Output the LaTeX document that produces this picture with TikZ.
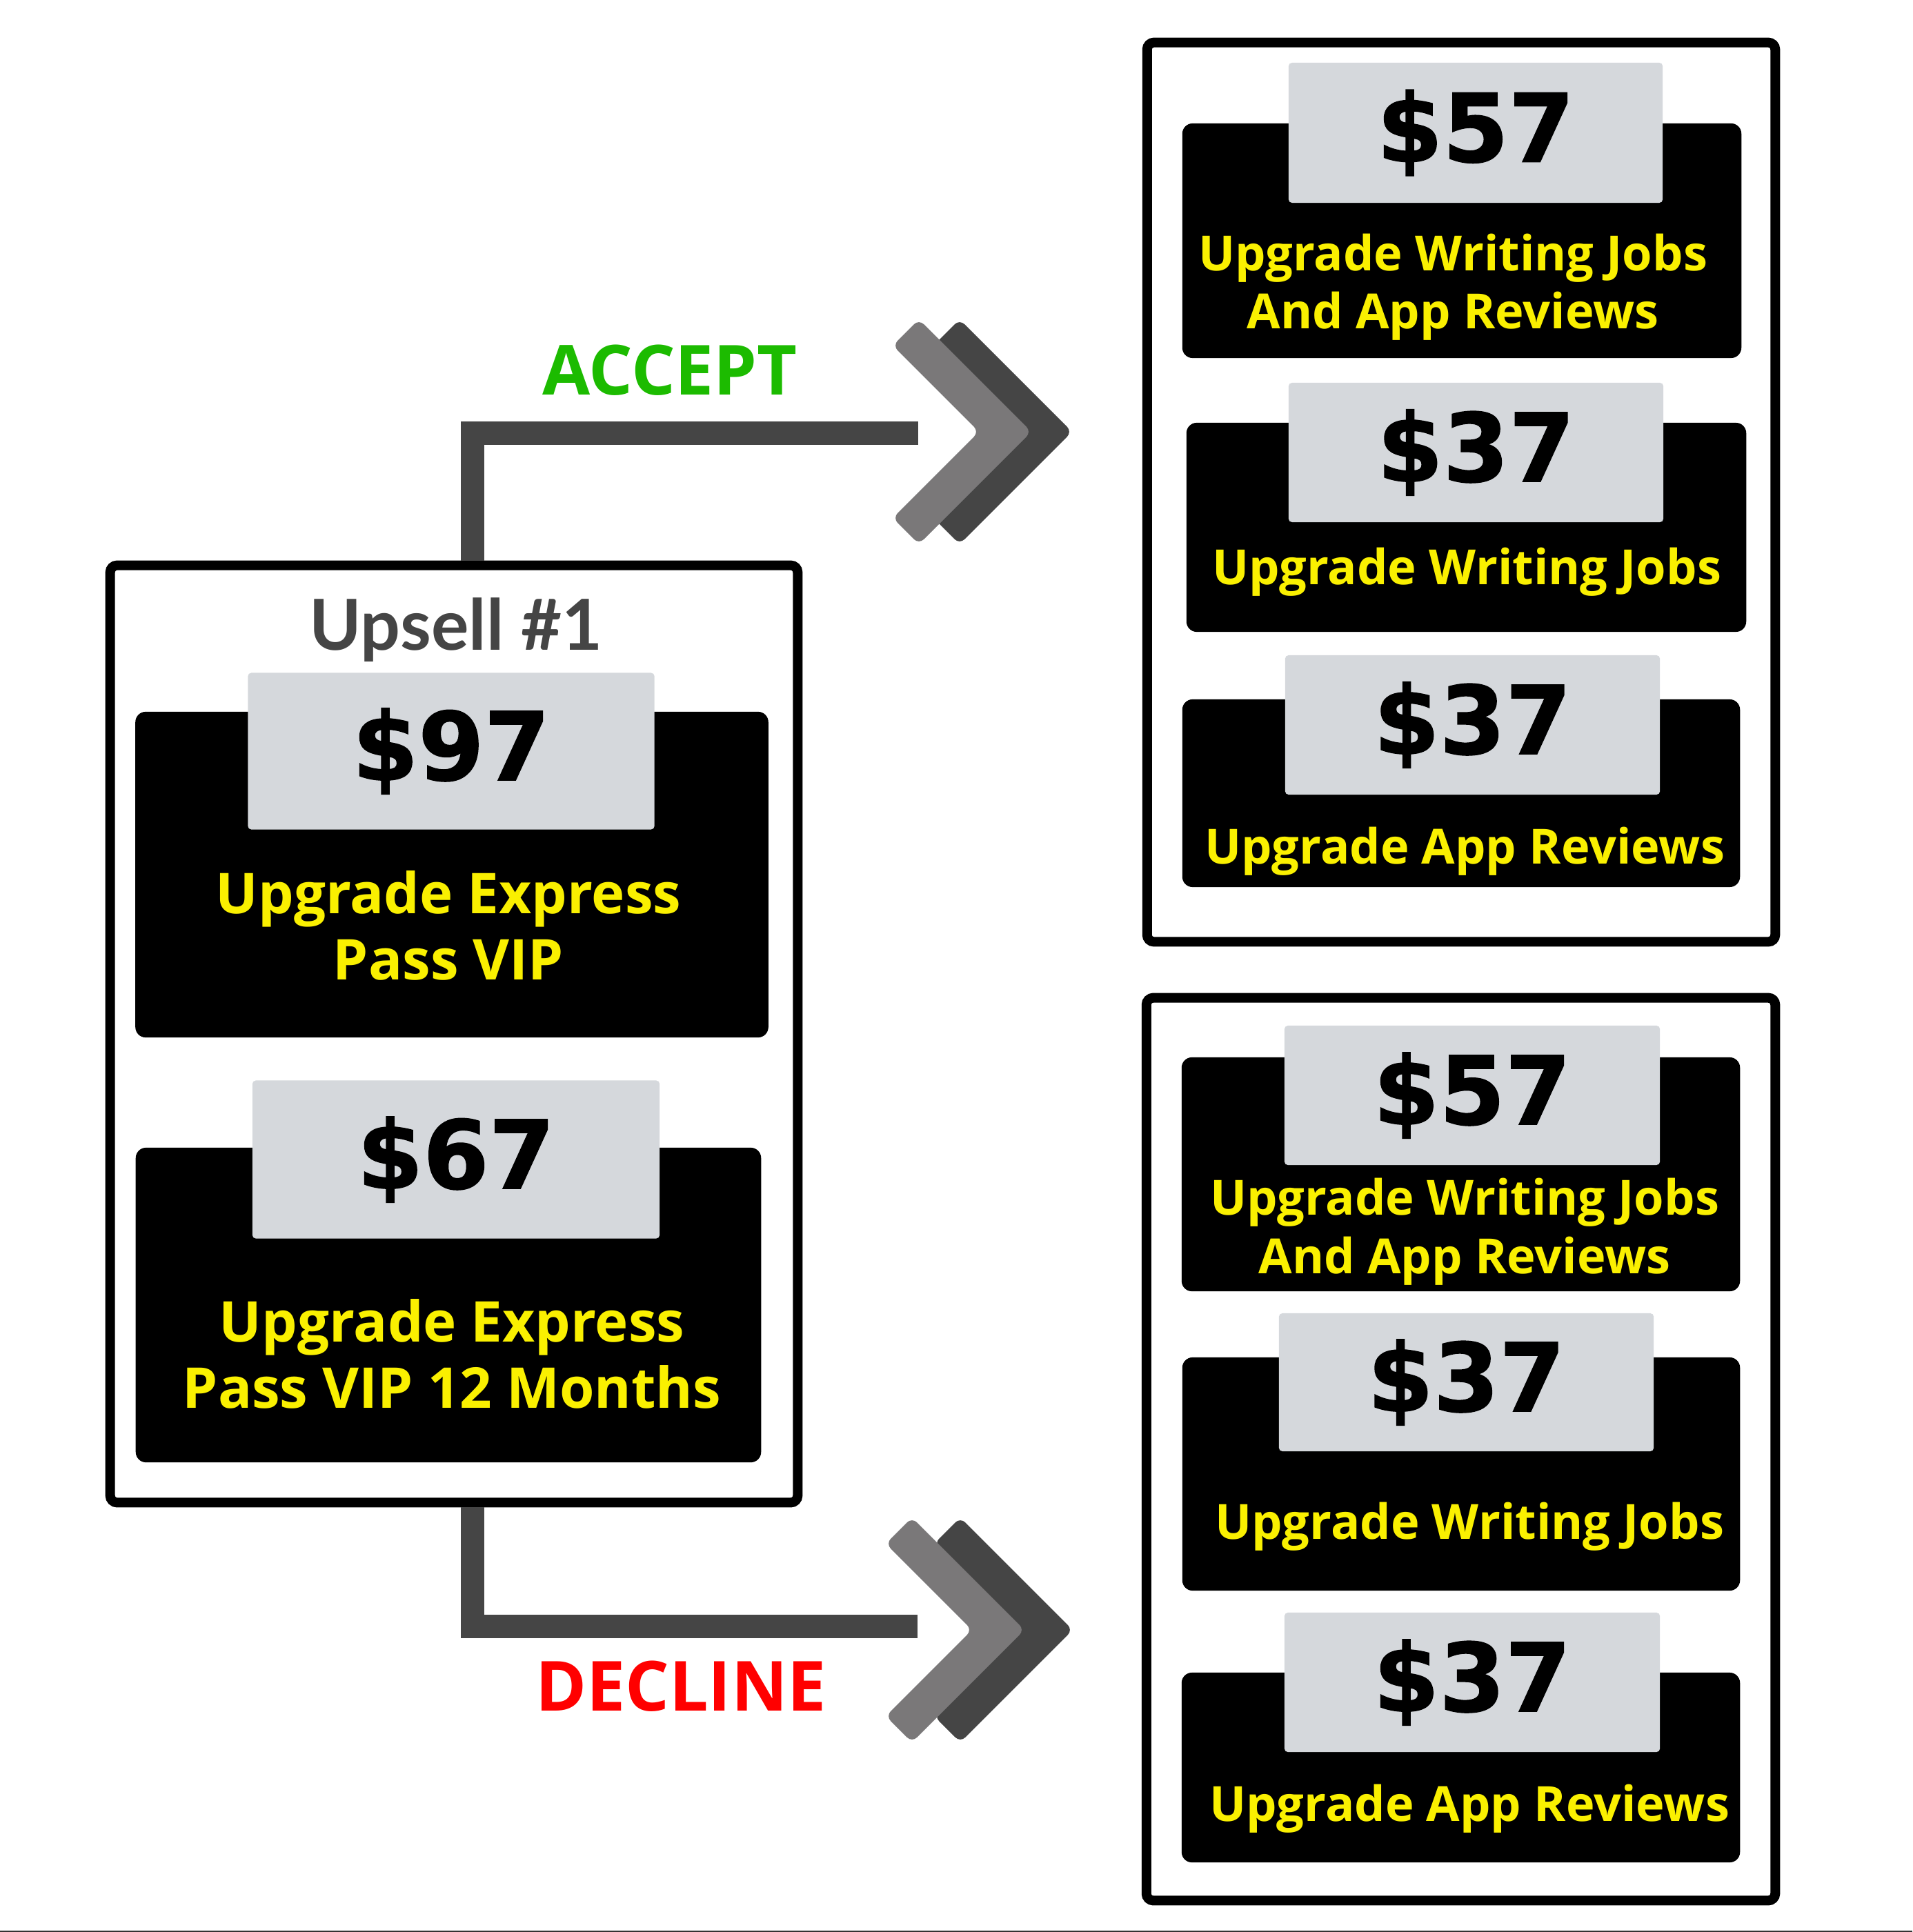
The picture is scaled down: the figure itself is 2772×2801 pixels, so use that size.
\documentclass[tikz,border=0pt]{standalone}
\usepackage{fontspec}
\newfontfamily\dealfont{Open Sans}
\newfontfamily\pricefont{DejaVu Sans}[BoldFeatures={FakeBold=1.2}]
\newfontfamily\titlefont{Lato}
\definecolor{dealyellow}{RGB}{250,240,0}
\definecolor{pricegray}{RGB}{213,216,220}
\definecolor{linkgray}{RGB}{69,69,69}
\definecolor{chevlight}{RGB}{122,120,121}
\definecolor{acceptgreen}{RGB}{28,187,0}
\begin{document}
\begin{tikzpicture}[x=0.01cm, y=-0.01cm,
    panel/.style={draw, line width=0.14cm, rounded corners=0.1cm, inner sep=0pt},
    offer/.style={fill=black, rounded corners=0.15cm, inner sep=0pt},
    price/.style={fill=pricegray, rounded corners=0.05cm, inner sep=0pt,
      font=\pricefont\bfseries\fontsize{39}{40}\selectfont},
    deal/.style={text=dealyellow, align=center, anchor=base,
      font=\dealfont\bfseries\fontsize{20}{23.9}\selectfont},
    bigdeal/.style={deal, font=\dealfont\bfseries\fontsize{23.2}{27.3}\selectfont},
    link/.style={draw=linkgray, line width=0.34cm},
    verdict/.style={anchor=base, font=\dealfont\bfseries\fontsize{28.5}{30}\selectfont}]

  \useasboundingbox (0,0) rectangle (2772,2801);

  % left upsell panel
  \node[panel, minimum width=9.96cm, minimum height=13.58cm] (upsell) at (658,1499) {};
  \node[anchor=base, text=linkgray, font=\titlefont\bfseries\fontsize{29}{30}\selectfont] (title) at (661,942) {Upsell \#1};

  \node[offer, minimum width=9.17cm, minimum height=4.72cm] (vip) at (655,1268) {};
  \node[price, minimum width=5.89cm, minimum height=2.27cm] (vipprice) at (654,1089) {\$97};
  \node[bigdeal] (viptext) at (650,1420) {Upgrade Express\\Pass VIP};

  \node[offer, minimum width=9.06cm, minimum height=4.56cm] (vipyear) at (650,1892) {};
  \node[price, minimum width=5.9cm, minimum height=2.29cm] (vipyearprice) at (661,1681) {\$67};
  \node[bigdeal] (vipyeartext) at (655,2041) {Upgrade Express\\Pass VIP 12 Months};

  % accept panel
  \node[panel, minimum width=9.10cm, minimum height=13.03cm] (acceptpanel) at (2118,713.5) {};
  \node[offer, minimum width=8.10cm, minimum height=3.40cm] (jobsapps) at (2119,349) {};
  \node[price, minimum width=5.42cm, minimum height=2.03cm] (jobsappsprice) at (2139,192.5) {\$57};
  \node[deal] (jobsappstext) at (2106,477) {Upgrade Writing Jobs\\And App Reviews};
  \node[offer, minimum width=8.11cm, minimum height=3.03cm] (jobs) at (2125.5,764.5) {};
  \node[price, minimum width=5.43cm, minimum height=2.02cm] (jobsprice) at (2139.5,656) {\$37};
  \node[deal] (jobstext) at (2126,847) {Upgrade Writing Jobs};
  \node[offer, minimum width=8.08cm, minimum height=2.72cm] (apps) at (2118,1150) {};
  \node[price, minimum width=5.43cm, minimum height=2.02cm] (appsprice) at (2134.5,1051) {\$37};
  \node[deal] (appstext) at (2123,1252) {Upgrade App Reviews};

  % decline panel
  \node[panel, minimum width=9.11cm, minimum height=13.08cm] (declinepanel) at (2117.5,2101) {};
  \node[offer, minimum width=8.09cm, minimum height=3.39cm] (downjobsapps) at (2117.5,1702.5) {};
  \node[price, minimum width=5.44cm, minimum height=2.02cm] (downjobsappsprice) at (2134,1588) {\$57};
  \node[deal] (downjobsappstext) at (2123,1846) {Upgrade Writing Jobs\\And App Reviews};
  \node[offer, minimum width=8.08cm, minimum height=3.38cm] (downjobs) at (2118,2137) {};
  \node[price, minimum width=5.43cm, minimum height=2.00cm] (downjobsprice) at (2125.5,2004) {\$37};
  \node[deal] (downjobstext) at (2130,2231) {Upgrade Writing Jobs};
  \node[offer, minimum width=8.09cm, minimum height=2.75cm] (downapps) at (2117.5,2562.5) {};
  \node[price, minimum width=5.44cm, minimum height=2.02cm] (downappsprice) at (2134,2439) {\$37};
  \node[deal] (downappstext) at (2130,2640) {Upgrade App Reviews};

  % connectors
  \coordinate (acceptbend) at (685,628);
  \coordinate (acceptend) at (1331,628);
  \coordinate (declinebend) at (685,2358);
  \coordinate (declineend) at (1330,2358);
  \draw[link] (upsell.north -| acceptbend) -- (acceptbend) -- (acceptend);
  \draw[link] (upsell.south -| declinebend) -- (declinebend) -- (declineend);
  \node[verdict, text=acceptgreen] (accept) at (971,573) {ACCEPT};
  \node[verdict, text=red] (decline) at (987,2480) {DECLINE};

  % chevrons
  \foreach \tx/\ty/\tone in {1391/463/linkgray, 1332/463/chevlight, 1392/2200/linkgray, 1322/2200/chevlight}
    \fill[\tone, rounded corners=0.1cm] (\tx,\ty) -- ++(163,163) -- ++(-163,163) -- ++(-38,-38)
      -- ++(125,-125) -- ++(-125,-125) -- cycle;

  \draw[line width=0.02cm, black!80] (0,2800) -- (2772,2800);
\end{tikzpicture}
\end{document}
